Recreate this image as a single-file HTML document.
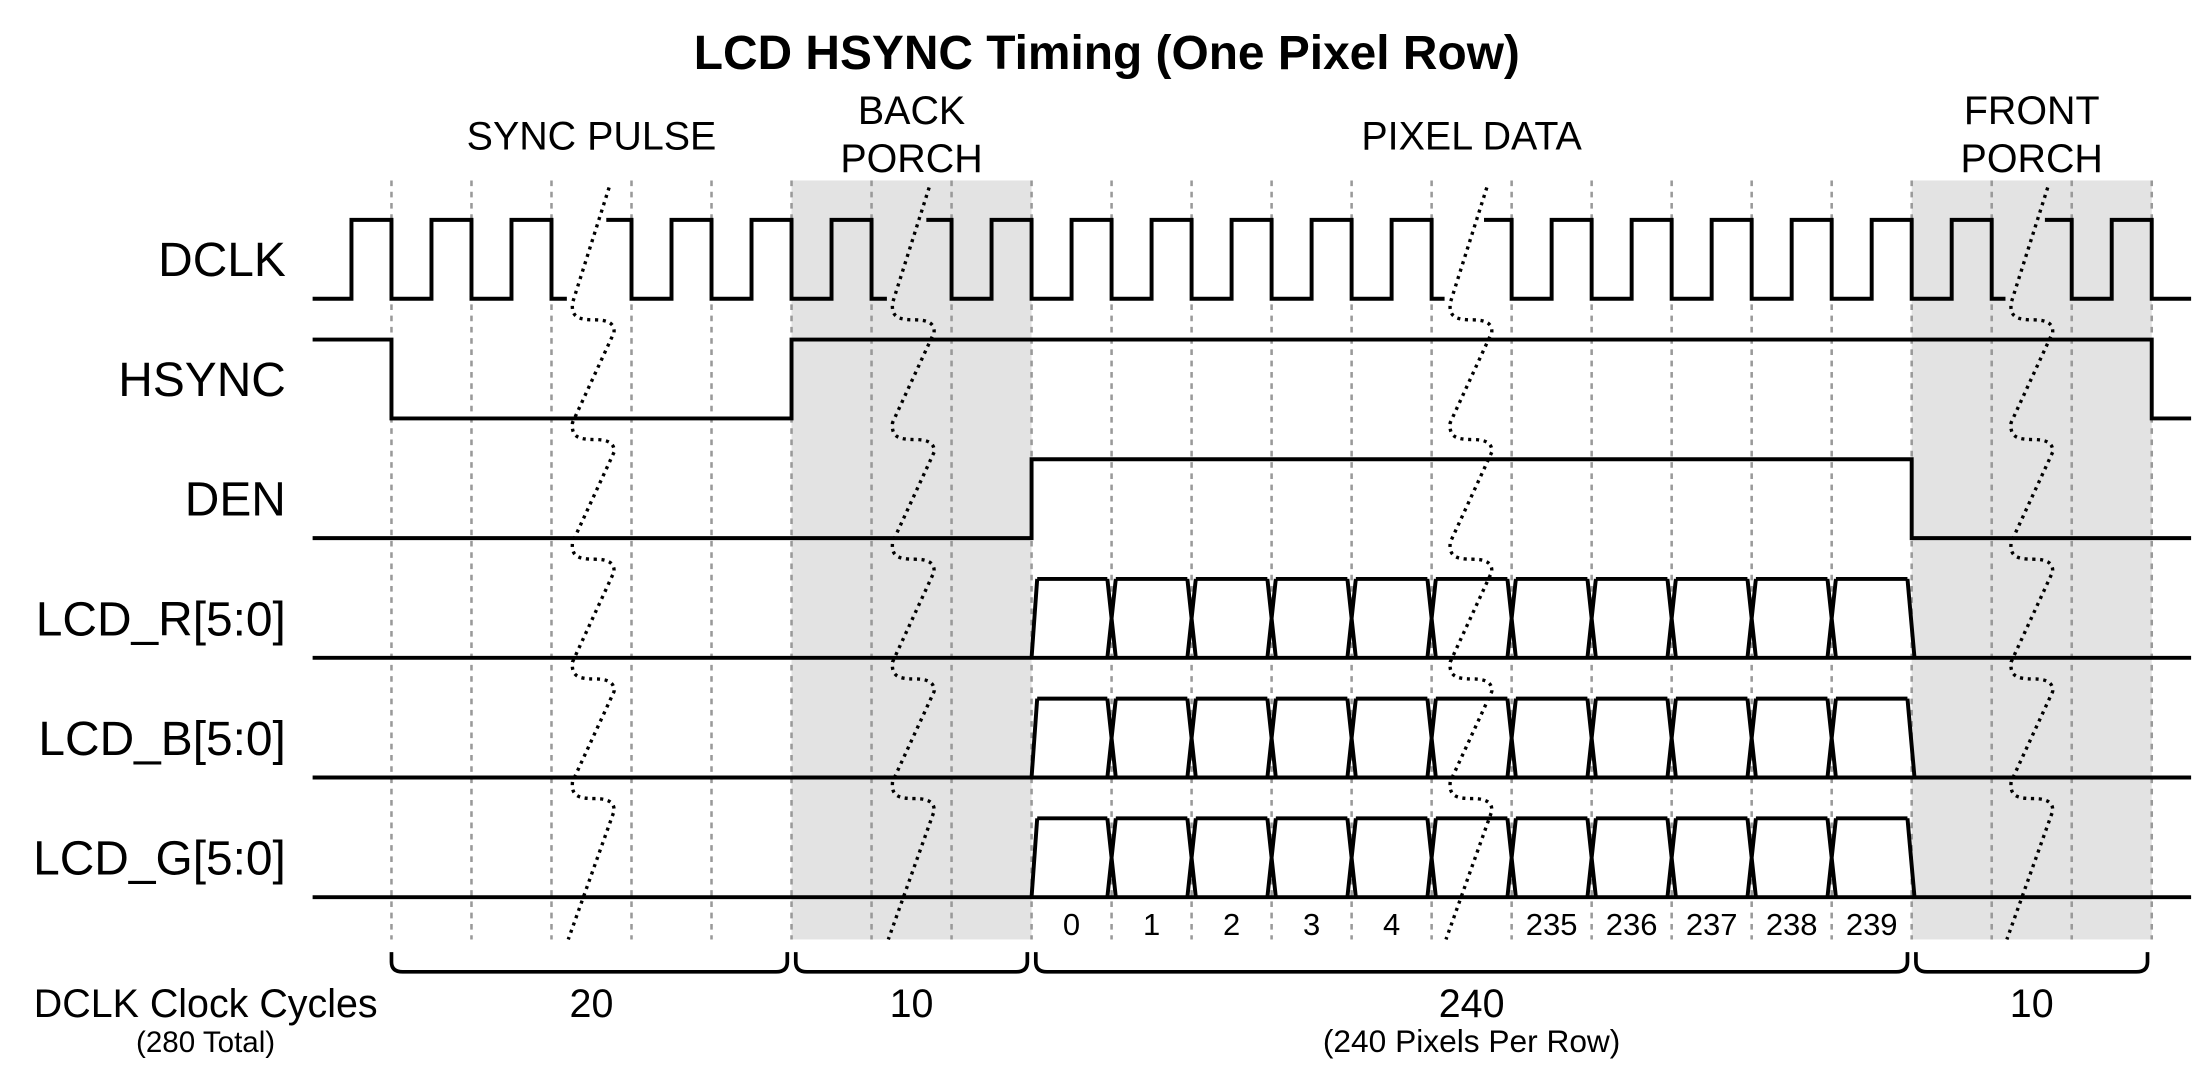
<!DOCTYPE html>
<html><head><meta charset="utf-8">
<style>
html,body{margin:0;padding:0;background:#fff;}
svg{display:block;}
text{font-family:"Liberation Sans",Arial,sans-serif;fill:#000;}
</style></head>
<body>
<svg id="chart" width="2208" height="1072" viewBox="0 0 1568 761" xmlns="http://www.w3.org/2000/svg">
<text x="786" y="49" text-anchor="middle" font-size="34" font-weight="bold">LCD HSYNC Timing (One Pixel Row)</text>
<g id="shade"></g>
<g id="grid"></g>
<g id="waves"></g>
<g id="breaks"></g>
<g id="labels"></g>
<g id="braces"></g>
</svg>
<script>
// ---- data ----
const sectionNames = [["SYNC PULSE"], ["BACK","PORCH"], ["PIXEL DATA"], ["FRONT","PORCH"]];
const sectionCycles = [20, 10, 240, 10];
const sectionTicks = [5, 3, 11, 3];        // drawn clock ticks per section
const sectionShaded = [false, true, false, true];
const breakTickOffset = [2.72, 1.72, 5.69, 1.70]; // break position (ticks from section start)
const signalNames = ["DCLK", "HSYNC", "DEN", "LCD_R[5:0]", "LCD_B[5:0]", "LCD_G[5:0]"];
const hsyncLevels = [0, 1, 1, 1];   // level per section
const hsyncPrePost = [1, 0];
const denLevels = [0, 0, 1, 0];
const denPrePost = [0, 0];
const pixelLabels = ["0","1","2","3","4","","235","236","237","238","239"];
const totalNote = "(280 Total)";
const pixelNote = "(240 Pixels Per Row)";

// ---- geometry ----
const NS = "http://www.w3.org/2000/svg";
const X0 = 278, STEP = 56.82, LEFT = 222, RIGHT = 1556;
const GTOP = 128, GBOT = 667;
const laneLow = i => 212 + 85 * i, AMP = 56;
const tx = k => X0 + STEP * k;
function mk(tag, attrs, parent) { const e = document.createElementNS(NS, tag); for (const a in attrs) e.setAttribute(a, attrs[a]); parent.appendChild(e); return e; }
const gShade = document.getElementById('shade'), gGrid = document.getElementById('grid'),
      gW = document.getElementById('waves'), gB = document.getElementById('breaks'),
      gL = document.getElementById('labels'), gBr = document.getElementById('braces');
const LW = 2.8;

const secStart = []; let acc = 0;
sectionTicks.forEach(t => { secStart.push(acc); acc += t; });
const totalTicks = acc;

sectionShaded.forEach((s, i) => {
  if (!s) return;
  const r = mk('rect', {x: tx(secStart[i]), y: GTOP, width: STEP * sectionTicks[i], height: GBOT - GTOP, fill: '#e3e3e3'}, gShade);
  
  
});
for (let k = 0; k <= totalTicks; k++) {
  const l = mk('line', {x1: tx(k), x2: tx(k), y1: GTOP, y2: GBOT, stroke: '#999', 'stroke-width': 1.8, 'stroke-dasharray': '4 4'}, gGrid);
  
  
}
sectionNames.forEach((nm, i) => {
  const cx = tx(secStart[i] + sectionTicks[i] / 2);
  nm.forEach((line, j) => {
    const t = mk('text', {x: cx, y: nm.length === 1 ? 106 : 88 + j * 34, 'text-anchor': 'middle', 'font-size': 28}, gL);
    t.textContent = line;
    
    
  });
});
signalNames.forEach((n, i) => {
  const t = mk('text', {x: 203, y: laneLow(i) - 16, 'text-anchor': 'end', 'font-size': 34}, gL);
  t.textContent = n;
  
  
});
const breakX = sectionTicks.map((t, i) => tx(secStart[i] + breakTickOffset[i]));

// DCLK
(function () {
  const lo = laneLow(0), hi = lo - AMP;
  const pts = [[LEFT, lo]];
  for (let k = 0; k <= totalTicks; k++) {
    const r = tx(k) - STEP / 2, f = tx(k);
    pts.push([r, lo], [r, hi], [f, hi], [f, lo]);
  }
  pts.push([RIGHT, lo]);
  const gaps = breakX.map(X => [X - 30, X - 2]);
  const inGap = x => gaps.some(g => x > g[0] && x < g[1]);
  let d = '', pen = false;
  for (let i = 0; i < pts.length - 1; i++) {
    const [x1, y1] = pts[i], [x2, y2] = pts[i + 1];
    if (y1 === y2) {
      let s = x1;
      const cuts = gaps.filter(g => g[1] > x1 && g[0] < x2).sort((a, b) => a[0] - b[0]);
      for (const g of cuts) {
        if (g[0] > s) { d += (pen ? 'L' : 'M') + s + ' ' + y1 + 'L' + g[0] + ' ' + y1; }
        pen = false; s = Math.max(s, g[1]);
      }
      if (s < x2) { d += (pen ? 'L' : 'M') + s + ' ' + y1 + 'L' + x2 + ' ' + y2; pen = true; }
    } else {
      if (inGap(x1)) { pen = false; continue; }
      d += (pen ? 'L' : 'M') + x1 + ' ' + y1 + 'L' + x2 + ' ' + y2; pen = true;
    }
  }
  const p = mk('path', {d: d, fill: 'none', stroke: '#000', 'stroke-width': LW}, gW);
  
  
})();

function levelWave(lane, levels, prePost, name) {
  const lo = laneLow(lane), hi = lo - AMP;
  const Y = l => l ? hi : lo;
  let cur = Y(prePost[0]);
  let d = 'M' + LEFT + ' ' + cur;
  const seq = levels.map((l, i) => [tx(secStart[i]), Y(l)]);
  seq.push([tx(totalTicks), Y(prePost[1])]);
  seq.forEach(([x, yy]) => {
    if (yy !== cur) { d += 'L' + x + ' ' + cur + 'L' + x + ' ' + yy; cur = yy; }
  });
  d += 'L' + RIGHT + ' ' + cur;
  const p = mk('path', {d: d, fill: 'none', stroke: '#000', 'stroke-width': LW}, gW);
  
  
}
levelWave(1, hsyncLevels, hsyncPrePost, 'hsync-waveform');
levelWave(2, denLevels, denPrePost, 'den-waveform');

for (let lane = 3; lane <= 5; lane++) {
  const lo = laneLow(lane), hi = lo - AMP;
  const s = secStart[2], n = sectionTicks[2];
  const base = mk('line', {x1: LEFT, x2: RIGHT, y1: lo, y2: lo, stroke: '#000', 'stroke-width': LW}, gW);
  
  
  let d = 'M' + tx(s) + ' ' + lo + 'L' + (tx(s) + 4) + ' ' + hi;
  for (let c = 0; c < n; c++) {
    const xa = tx(s + c), xb = tx(s + c + 1);
    const l = c === 0 ? xa + 4 : xa + 3;
    d += 'M' + l + ' ' + hi + 'L' + (xb - 3) + ' ' + hi;
    if (c < n - 1) d += 'M' + (xb - 3) + ' ' + hi + 'L' + (xb + 3) + ' ' + lo + 'M' + (xb - 3) + ' ' + lo + 'L' + (xb + 3) + ' ' + hi;
  }
  d += 'M' + (tx(s + n) - 3) + ' ' + hi + 'L' + (tx(s + n) + 2) + ' ' + lo;
  const p = mk('path', {d: d, fill: 'none', stroke: '#000', 'stroke-width': LW}, gW);
  
  
}
pixelLabels.forEach((lb, c) => {
  if (!lb) return;
  const t = mk('text', {x: tx(secStart[2] + c + 0.5), y: 664, 'text-anchor': 'middle', 'font-size': 22}, gL);
  t.textContent = lb;
  
  
});

breakX.forEach((X, i) => {
  let d = 'M' + X + ' 133L' + (X - 26) + ' 215';
  for (let lane = 0; lane < 5; lane++) {
    const y = 215 + 85 * lane;
    d += 'C' + (X - 27) + ' ' + (y + 10) + ' ' + (X - 22) + ' ' + (y + 12) + ' ' + (X - 10) + ' ' + (y + 12);
    d += 'C' + (X) + ' ' + (y + 12) + ' ' + (X + 4) + ' ' + (y + 15) + ' ' + (X + 3.5) + ' ' + (y + 21);
    if (lane < 4) d += 'L' + (X - 26) + ' ' + (y + 85);
    else d += 'L' + (X - 29) + ' ' + GBOT;
  }
  const p = mk('path', {d: d, fill: 'none', stroke: '#000', 'stroke-width': 2.4, 'stroke-dasharray': '2.2 3.3'}, gB);
  
  
});

sectionCycles.forEach((cnt, i) => {
  const xa = tx(secStart[i]) + (i === 0 ? 0 : 3), xb = tx(secStart[i] + sectionTicks[i]) - 3;
  const d = 'M' + xa + ' 676L' + xa + ' 683Q' + xa + ' 690 ' + (xa + 8) + ' 690L' + (xb - 8) + ' 690Q' + xb + ' 690 ' + xb + ' 683L' + xb + ' 676';
  const p = mk('path', {d: d, fill: 'none', stroke: '#000', 'stroke-width': 2.6}, gBr);
  
  
  const t = mk('text', {x: tx(secStart[i] + sectionTicks[i] / 2), y: 722, 'text-anchor': 'middle', 'font-size': 28}, gBr);
  t.textContent = cnt;
  
  
});
(function () {
  let t = mk('text', {x: 24, y: 722, 'font-size': 28}, gBr);
  t.textContent = 'DCLK Clock Cycles';
  
  
  t = mk('text', {x: 146, y: 747, 'text-anchor': 'middle', 'font-size': 21}, gBr);
  t.textContent = totalNote;
  
  
  t = mk('text', {x: tx(secStart[2] + sectionTicks[2] / 2), y: 747, 'text-anchor': 'middle', 'font-size': 22.5}, gBr);
  t.textContent = pixelNote;
  
  
})();
</script>
</body></html>
